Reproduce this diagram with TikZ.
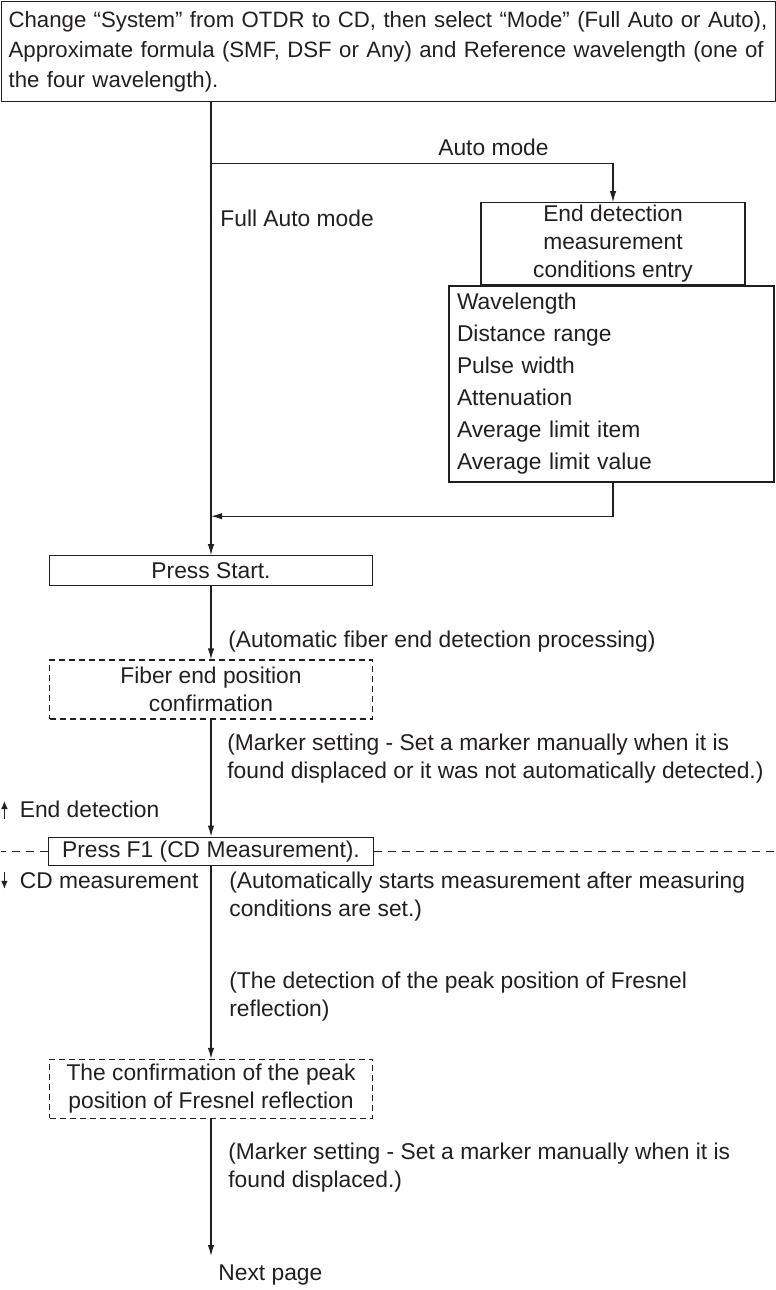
\documentclass[tikz,border=0pt]{standalone}
\usepackage{fontspec}
\setmainfont{Liberation Sans}
\usetikzlibrary{positioning,arrows.meta}
\definecolor{inkgray}{RGB}{35,31,32}
\newcommand{\stepfont}{\fontsize{11.4}{14}\selectfont}
\newcommand{\listfont}{\fontsize{11.4}{16}\selectfont}
\newcommand{\headfont}{\fontsize{11.1}{15}\selectfont}

\begin{document}
\begin{tikzpicture}[
  box/.style={draw=inkgray,line width=0.6pt,minimum width=161.5pt,minimum height=15pt,inner ysep=1pt,align=center,font=\stepfont,text=inkgray},
  dashbox/.style={box,dash pattern=on 3pt off 2pt,minimum height=29.5pt},
  flow/.style={draw=inkgray,line width=0.6pt,-{Latex[length=5.5pt,width=3.2pt]}},
  sepline/.style={draw=inkgray,line width=0.6pt,dash pattern=on 4pt off 3pt},
  tinyarrow/.style={draw=inkgray,line width=0.55pt,-{Latex[length=4pt,width=3.4pt]}},
  note/.style={inner sep=0pt,align=left,font=\stepfont,text=inkgray}
]
  \useasboundingbox (0,0) rectangle (388pt,-645pt);

  \node[box,anchor=north west,minimum width=387pt,minimum height=50pt,inner xsep=3.5pt,text width=380pt,align=left,font=\headfont] (setup) at (0.5pt,-0.5pt) {\mbox{Change “System” from OTDR to CD, then select “Mode” (Full Auto or Auto),}\\\mbox{Approximate formula (SMF, DSF or Any) and Reference wavelength (one of}\\the four wavelength).};

  \coordinate (trunk) at ([xshift=105pt]setup.south west);
  \coordinate[below=30.5pt of trunk] (split);
  \coordinate[right=201pt of split] (autoturn);
  \coordinate[below=176.5pt of split] (merge);

  \node[note,above left=3.5pt and 32pt of autoturn] (automode) {Auto mode};
  \node[note,below right=23.3pt and 4.5pt of split] (fullauto) {Full Auto mode};

  \node[box,below=19.5pt of autoturn,minimum width=132pt,minimum height=41pt] (endcond) {End detection\\measurement\\conditions entry};
  \node[box,below right=0pt and -16pt of endcond.south west,minimum width=162.5pt,minimum height=98pt,inner xsep=4pt,text width=154.5pt,align=left,font=\listfont] (params) {Wavelength\\Distance range\\Pulse width\\Attenuation\\Average limit item\\Average limit value};

  \node[box,below=19.5pt of merge] (start) {Press Start.};
  \node[note,below right=22.3pt and 8.5pt of start.south] (autofind) {(Automatic fiber end detection processing)};
  \node[dashbox,below=36.5pt of start] (fiberend) {Fiber end position\\confirmation};
  \node[note,below right=7pt and 8pt of fiberend.south] (marker1) {(Marker setting - Set a marker manually when it is\\found displaced or it was not automatically detected.)};

  \node[box,below=58.5pt of fiberend,minimum width=162.5pt,minimum height=14pt] (pressf1) {Press F1 (CD Measurement).};
  \node[note,above right=9pt and -14.25pt of pressf1.north west] (enddet) {End detection};
  \node[note,below right=3pt and -14.25pt of pressf1.south west] (cdmeas) {CD measurement};
  \node[note,below right=2.8pt and 9pt of pressf1.south] (autostart) {(Automatically starts measurement after measuring\\conditions are set.)};
  \node[note,below right=52.8pt and 9pt of pressf1.south] (peakdet) {(The detection of the peak position of Fresnel\\reflection)};

  \node[dashbox,below=96.5pt of pressf1] (peakconf) {The confirmation of the peak\\position of Fresnel reflection};
  \node[note,below right=11.8pt and 8.5pt of peakconf.south] (marker2) {(Marker setting - Set a marker manually when it is\\found displaced.)};
  \coordinate[below=68.5pt of peakconf] (pageend);
  \node[note,below right=4pt and 3.5pt of pageend] (nextpage) {Next page};

  \draw[flow] (trunk) -- (start);
  \draw[flow] (split) -- (autoturn) -- (endcond);
  \draw[flow] (params.south -| autoturn) |- (merge);
  \draw[flow] (start) -- (fiberend);
  \draw[flow] (fiberend) -- (pressf1);
  \draw[flow] (pressf1) -- (peakconf);
  \draw[flow] (peakconf) -- (pageend);

  \draw[sepline] (pressf1.west) -- (pressf1.west -| setup.west);
  \draw[sepline] (pressf1.east) -- (pressf1.east -| setup.east);
  \draw[tinyarrow] ([xshift=-7.5pt]enddet.south west) -- ([xshift=-7.5pt]enddet.north west);
  \draw[tinyarrow] ([xshift=-7.5pt]cdmeas.north west) -- ([xshift=-7.5pt]cdmeas.south west);
\end{tikzpicture}
\end{document}
